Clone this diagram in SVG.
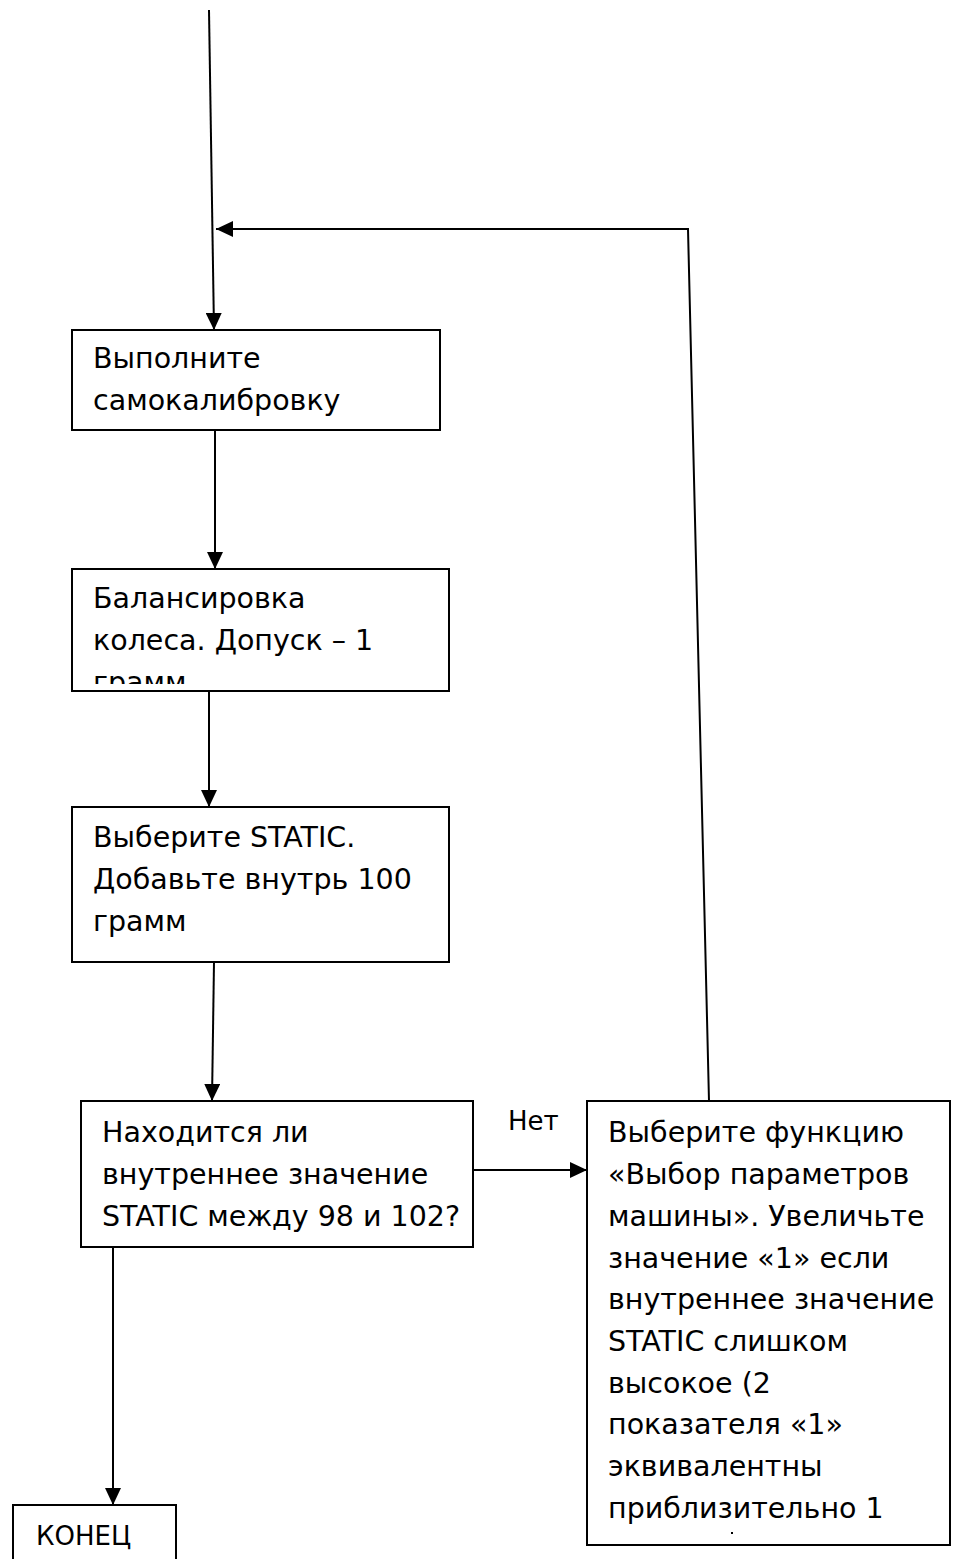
<svg xmlns="http://www.w3.org/2000/svg" width="955" height="1559" viewBox="0 0 955 1559">
<style>
.box{fill:#fff;stroke:#000;stroke-width:2}
.t{font-family:"DejaVu Sans","Liberation Sans",sans-serif;font-size:28.5px;fill:#000}
.s{font-size:26px}
.c{fill:none;stroke:#000;stroke-width:2}
</style>
<defs>
<marker id="ah" markerUnits="userSpaceOnUse" markerWidth="18" markerHeight="16" refX="17" refY="8" orient="auto">
<path d="M0,0 L17,8 L0,16 Z" fill="#000"/>
</marker>
<clipPath id="clip2"><rect x="72" y="569" width="377" height="115"/></clipPath>
</defs>
<rect width="955" height="1559" fill="#fff"/>
<g id="connectors">
<path class="c" d="M209,10 L214,330" marker-end="url(#ah)"/>
<path class="c" d="M215,430 L215,569" marker-end="url(#ah)"/>
<path class="c" d="M209,692 L209,807" marker-end="url(#ah)"/>
<path class="c" d="M214,962 L212,1101" marker-end="url(#ah)"/>
<path class="c" d="M473,1170 L587,1170" marker-end="url(#ah)"/>
<path class="c" d="M709,1101 L688,229 L216,229" marker-end="url(#ah)"/>
<path class="c" d="M113,1247 L113,1505" marker-end="url(#ah)"/>
<text class="t s" x="508" y="1130">Нет</text>
</g>
<g id="n1">
<rect class="box" x="72" y="330" width="368" height="100"/>
<text class="t" x="93" y="368">Выполните</text>
<text class="t" x="93" y="410">самокалибровку</text>
</g>
<g id="n2">
<rect class="box" x="72" y="569" width="377" height="122"/>
<g clip-path="url(#clip2)">
<text class="t" x="93" y="608">Балансировка</text>
<text class="t" x="93" y="650">колеса. Допуск – 1</text>
<text class="t" x="93" y="692">грамм</text>
</g>
</g>
<g id="n3">
<rect class="box" x="72" y="807" width="377" height="155"/>
<text class="t" x="93" y="847">Выберите STATIC.</text>
<text class="t" x="93" y="889">Добавьте внутрь 100</text>
<text class="t" x="93" y="931">грамм</text>
</g>
<g id="n4">
<rect class="box" x="81" y="1101" width="392" height="146"/>
<text class="t" x="102" y="1142">Находится ли</text>
<text class="t" x="102" y="1184">внутреннее значение</text>
<text class="t" x="102" y="1226">STATIC между 98 и 102?</text>
</g>
<g id="n5">
<rect class="box" x="587" y="1101" width="363" height="444"/>
<text class="t" x="608" y="1142">Выберите функцию</text>
<text class="t" x="608" y="1184">«Выбор параметров</text>
<text class="t" x="608" y="1226">машины». Увеличьте</text>
<text class="t" x="608" y="1268">значение «1» если</text>
<text class="t" x="608" y="1309">внутреннее значение</text>
<text class="t" x="608" y="1351">STATIC слишком</text>
<text class="t" x="608" y="1393">высокое (2</text>
<text class="t" x="608" y="1434">показателя «1»</text>
<text class="t" x="608" y="1476">эквивалентны</text>
<text class="t" x="608" y="1518">приблизительно 1</text>
<rect x="731" y="1532" width="2" height="2" fill="#000"/>
</g>
<g id="n6">
<rect class="box" x="13" y="1505" width="163" height="60"/>
<text class="t s" x="36" y="1545">КОНЕЦ</text>
</g>
</svg>
